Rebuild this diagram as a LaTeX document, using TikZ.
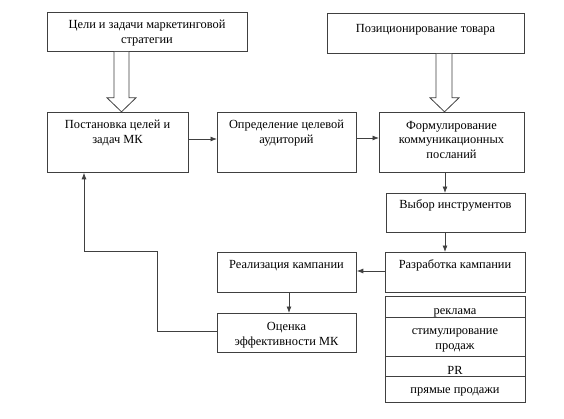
\documentclass[tikz,border=0pt]{standalone}
\usepackage{fontspec}
\setmainfont{Liberation Serif}
\usetikzlibrary{arrows.meta,calc}
\definecolor{linec}{gray}{0.25}
\begin{document}
\begin{tikzpicture}[x=1pt,y=-1pt,
  box/.style={draw=linec, line width=0.8pt, inner sep=0pt, anchor=north west},
  txt/.style={anchor=north, inner sep=0pt, align=center, font=\fontsize{12.4}{14.6}\selectfont},
  arr/.style={draw=linec, line width=0.8pt, -{Latex[length=6.5pt,width=5pt]}},
  hollow/.style={draw=linec, line width=0.8pt, fill=white}]
\path[use as bounding box, fill=white] (0,0) rectangle (564,418);
% boxes
\node[box, minimum width=200pt, minimum height=39pt] (A) at (47,12) {};
\node[box, minimum width=197pt, minimum height=40pt] (P) at (327,13) {};
\node[box, minimum width=141pt, minimum height=60pt] (B) at (47,112) {};
\node[box, minimum width=139pt, minimum height=60pt] (C) at (217,112) {};
\node[box, minimum width=145pt, minimum height=60pt] (D) at (379,112) {};
\node[box, minimum width=139pt, minimum height=39pt] (E) at (386,193) {};
\node[box, minimum width=140pt, minimum height=40pt] (F) at (385,252) {};
\node[box, minimum width=139pt, minimum height=40pt] (G) at (217,252) {};
\node[box, minimum width=139pt, minimum height=39pt] (H) at (217,313) {};
\node[box, minimum width=140pt, minimum height=106pt] (T) at (385,296) {};
% texts
\node[txt] (At) at (147,18) {\strut Цели и задачи маркетинговой\\стратегии};
\node[txt] (Pt) at (425.5,22) {\strut Позиционирование товара};
\node[txt] (Bt) at (117.5,118) {\strut Постановка целей и\\задач МК};
\node[txt] (Ct) at (286.5,118) {\strut Определение целевой\\аудиторий};
\node[txt] (Dt) at (451.5,118.7) {\strut Формулирование\\коммуникационных\\посланий};
\node[txt] (Et) at (455.5,198) {\strut Выбор инструментов};
\node[txt] (Ft) at (455,258) {\strut Разработка кампании};
\node[txt] (Gt) at (286.5,258) {\strut Реализация кампании};
\node[txt] (Ht) at (286.5,320) {\strut Оценка\\эффективности МК};
\node[txt] (T1) at (455,304) {\strut реклама};
\node[txt] (T2) at (455,324) {\strut стимулирование\\продаж};
\node[txt] (T3) at (455,364) {\strut PR};
\node[txt] (T4) at (455,383) {\strut прямые продажи};
% dividers in tools box
\draw[draw=linec, line width=0.8pt] ($(T.north west)+(0,21)$) -- ($(T.north east)+(0,21)$);
\draw[draw=linec, line width=0.8pt] ($(T.north west)+(0,60)$) -- ($(T.north east)+(0,60)$);
\draw[draw=linec, line width=0.8pt] ($(T.north west)+(0,80)$) -- ($(T.north east)+(0,80)$);
% hollow arrows
\draw[hollow] ($(A.south west)+(67,0)$) -- ++(0,46) -- ++(-7,0) -- ++(14.5,14) -- ++(14.5,-14) -- ++(-7,0) -- ++(0,-46);
\draw[hollow] ($(P.south west)+(109,0)$) -- ++(0,44) -- ++(-6,0) -- ++(14.5,14) -- ++(14.5,-14) -- ++(-7,0) -- ++(0,-44);
% arrows
\draw[arr] ($(B.north east)+(0,27)$) -- ($(C.north west)+(0,27)$);
\draw[arr] ($(C.north east)+(0,26)$) -- ($(D.north west)+(0,26)$);
\draw[arr] ($(D.south west)+(66,0)$) -- ($(E.north west)+(59,0)$);
\draw[arr] ($(E.south west)+(59,0)$) -- ($(F.north west)+(60,0)$);
\draw[arr] ($(F.north west)+(0,19)$) -- ($(G.north east)+(0,19)$);
\draw[arr] ($(G.south west)+(72,0)$) -- ($(H.north west)+(72,0)$);
\coordinate (fb) at (157,251);
\draw[arr] ($(H.north west)+(0,18)$) -| (fb) -| ($(B.south west)+(37,0)$);
\end{tikzpicture}
\end{document}
